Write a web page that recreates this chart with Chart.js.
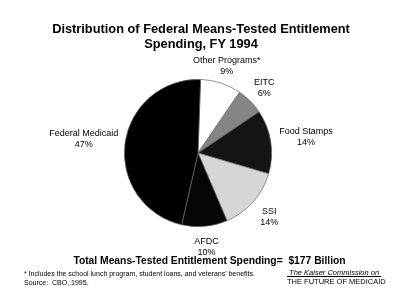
<!DOCTYPE html>
<html>
<head>
<meta charset="utf-8">
<script src="https://cdn.jsdelivr.net/npm/chart.js@4/dist/chart.umd.min.js"></script>
<style>
    body { margin: 0; background: #fff; font-family: Arial, "Liberation Sans", sans-serif; }
    #wrap { position: relative; width: 400px; height: 305px; }
    #wrap canvas { position: absolute; left: 0; top: 0; }
    .txt { position: absolute; color: #000; white-space: nowrap; }
    .title { left: 0; width: 402px; text-align: center; font-weight: bold; font-size: 12.8px; }
</style>
</head>
<body>
<div id="wrap">
    <canvas id="pie" width="400" height="305"></canvas>
    <div class="txt title" style="top:21px;">Distribution of Federal Means-Tested Entitlement</div>
    <div class="txt title" style="top:36px;">Spending, FY 1994</div>
    <div class="txt" style="left:0;width:419px;text-align:center;top:255px;font-weight:bold;font-size:10.3px;">Total Means-Tested Entitlement Spending=&nbsp; $177 Billion</div>
    <div class="txt" style="left:24px;top:269px;font-size:7px;line-height:9px;">* Includes the school lunch program, student loans, and veterans' benefits.<br>Source:&nbsp; CBO, 1995.</div>
    <div class="txt" style="left:287px;top:268px;width:94px;text-align:center;font-size:7.5px;line-height:9px;"><span style="font-style:italic;text-decoration:underline;">&nbsp;The Kaiser Commission on&nbsp;</span><br>THE FUTURE OF MEDICAID</div>
</div>
<script>
document.addEventListener('DOMContentLoaded', () => {

    // slices clockwise from the top
    const programs = ['Other Programs*', 'EITC', 'Food Stamps', 'SSI', 'AFDC', 'Federal Medicaid'];
    const shares = [9, 6, 14, 14, 10, 47];
    const sliceColors = ['#ffffff', '#858585', '#141414', '#d6d6d6', '#050505', '#000000'];

    // label text next to each slice
    const sliceLabels = {
        id: 'sliceLabels',
        afterDraw(chart) {
            const ctx = chart.ctx;
            const arcs = chart.getDatasetMeta(0).data;
            ctx.save();
            ctx.font = '9px Arial, "Liberation Sans", sans-serif';
            ctx.fillStyle = '#000';
            ctx.textAlign = 'center';
            ctx.textBaseline = 'middle';
            arcs.forEach((arc, i) => {
                const mid = (arc.startAngle + arc.endAngle) / 2;
                const half = ctx.measureText(programs[i]).width / 2;
                const c = Math.cos(mid);
                const s = Math.sin(mid);
                // labels below the centre sit a little further out
                const dist = arc.outerRadius + 16 + half * c * c * 0.75 + 4 * Math.max(0, s);
                const x = arc.x + c * dist;
                const y = arc.y + s * dist;
                ctx.fillText(programs[i], x, y - 5);
                ctx.fillText(shares[i] + '%', x, y + 6);
            });
            ctx.restore();
        }
    };

    new Chart(document.getElementById('pie'), {
        type: 'pie',
        data: {
            labels: programs,
            datasets: [{
                data: shares,
                backgroundColor: sliceColors,
                borderColor: '#6a6a6a',
                borderWidth: 0.7
            }]
        },
        options: {
            responsive: false,
            animation: false,
            rotation: 2,
            layout: { padding: { left: 124, right: 128, top: 79, bottom: 78 } },
            plugins: {
                legend: { display: false },
                tooltip: { enabled: false }
            }
        },
        plugins: [sliceLabels]
    });
});
</script>
</body>
</html>
